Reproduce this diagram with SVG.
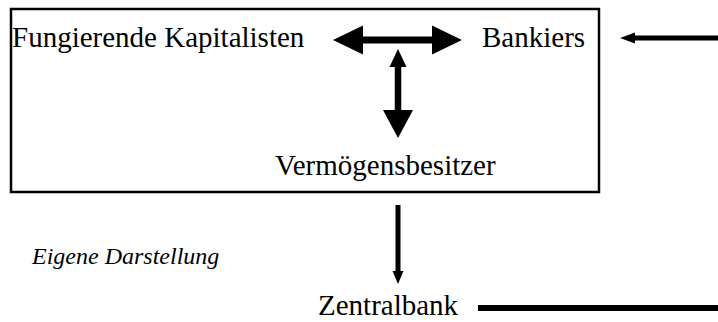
<svg xmlns="http://www.w3.org/2000/svg" width="718" height="322" viewBox="0 0 718 322">
<style>
.t{font-family:"Liberation Serif","Times New Roman",serif;font-size:29px;fill:#000}
.i{font-family:"Liberation Serif","Times New Roman",serif;font-size:24px;font-style:italic;fill:#000}
.ln{stroke:#000;fill:none}
.hd{fill:#000;stroke:none}
</style>
<rect x="0" y="0" width="718" height="322" fill="#fff"/>
<g id="box"><rect x="11" y="9" width="588" height="183" fill="none" stroke="#000" stroke-width="2.5"/></g>
<g id="fungierende"><text class="t" x="12" y="47">Fungierende Kapitalisten</text></g>
<g id="bankiers"><text class="t" x="482" y="47">Bankiers</text></g>
<g id="vermoegensbesitzer"><text class="t" x="275" y="175">Vermögensbesitzer</text></g>
<g id="zentralbank"><text class="t" x="318" y="315">Zentralbank</text></g>
<g id="quelle"><text class="i" x="32" y="264">Eigene Darstellung</text></g>
<g id="connectors">
<line class="ln" x1="360" y1="40" x2="435" y2="40" stroke-width="7"/>
<polygon class="hd" points="333,40 363,25.5 363,54.5"/>
<polygon class="hd" points="462,40 432,25.5 432,54.5"/>
<line class="ln" x1="398" y1="64" x2="398" y2="113" stroke-width="6.5"/>
<polygon class="hd" points="398,49 389.5,67 406.5,67"/>
<polygon class="hd" points="398,138 383,110 413,110"/>
<line class="ln" x1="398" y1="205" x2="398" y2="274" stroke-width="5"/>
<polygon class="hd" points="398,284 392.5,271 403.5,271"/>
<line class="ln" x1="478" y1="308" x2="718" y2="308" stroke-width="6"/>
<line class="ln" x1="632" y1="38" x2="718" y2="38" stroke-width="5"/>
<polygon class="hd" points="620,38 635,32.5 635,43.5"/>
</g>
</svg>
